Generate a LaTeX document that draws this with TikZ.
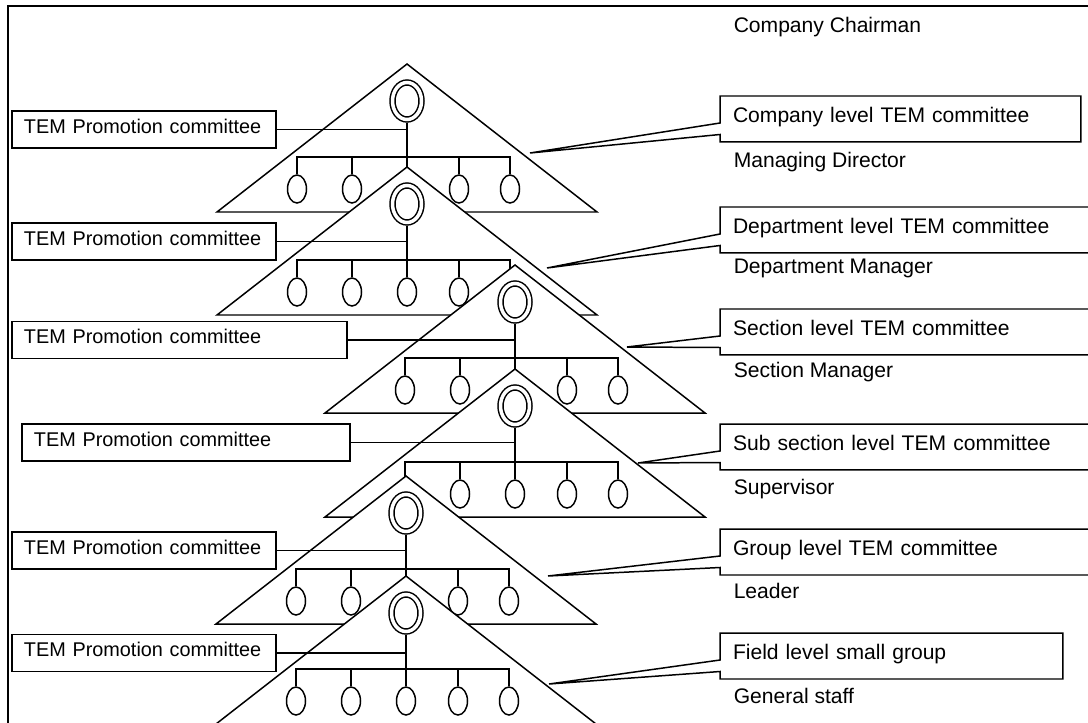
\documentclass[tikz,border=0pt]{standalone}
\usepackage{fontspec}
\setmainfont{Liberation Sans}
\usetikzlibrary{shapes.geometric,calc}

\tikzset{
  promobox/.style={draw, rectangle, anchor=west, outer sep=0pt, minimum height=0.74cm, inner xsep=0.24cm, align=left, text height=0.75em, text depth=0.3em, font=\fontsize{11.3}{13}\selectfont},
  tierbox/.style={rectangle, anchor=north west, outer sep=0pt, minimum height=0.92cm, inner xsep=0.26cm, align=left, text height=0.75em, text depth=0.3em, font=\fontsize{12}{14}\selectfont},
  rolelabel/.style={anchor=west, inner sep=0pt, text height=0.75em, text depth=0.3em, font=\fontsize{12}{14}\selectfont},
  boss/.style={ellipse, draw, double, double distance=0.07cm, minimum width=0.58cm, minimum height=0.74cm, inner sep=0pt, outer sep=0.065cm},
  member/.style={ellipse, draw, minimum width=0.38cm, minimum height=0.56cm, inner sep=0pt}
}

\begin{document}
\begin{tikzpicture}[x=0.02cm, y=-0.02cm, line width=0.85pt]
            \useasboundingbox (0,0) rectangle (1088,723);
            \clip (0,0) rectangle (1088,723);
            \draw (1100,6) -- (8,6) -- (8,730);

            % Promotion committees
            \node[promobox, text width=4.8cm] (prom1) at (12,129.5) {TEM Promotion committee};
            \node[promobox, text width=4.8cm] (prom2) at (12,241.5) {TEM Promotion committee};
            \node[promobox, text width=6.22cm] (prom3) at (12,340) {TEM Promotion committee};
            \node[promobox, text width=6.08cm] (prom4) at (22,442.5) {TEM Promotion committee};
            \node[promobox, text width=4.8cm] (prom5) at (12,550.5) {TEM Promotion committee};
            \node[promobox, text width=4.8cm] (prom6) at (12,653) {TEM Promotion committee};

            % Level committees
            \node[tierbox, text width=6.7cm] (tier1) at (720,96) {Company level TEM committee};
            \node[tierbox, text width=7.08cm] (tier2) at (720,207) {Department level TEM committee};
            \node[tierbox, text width=7.08cm] (tier3) at (720,309) {Section level TEM committee};
            \node[tierbox, text width=7.08cm] (tier4) at (720,424) {Sub section level TEM committee};
            \node[tierbox, text width=7.08cm] (tier5) at (720,529) {Group level TEM committee};
            \node[tierbox, text width=6.34cm] (tier6) at (720,633) {Field level small group};

            % Positions
            \node[rolelabel] (chair) at (733,28.5) {Company Chairman};
            \node[rolelabel] (role1) at (733,164) {Managing Director};
            \node[rolelabel] (role2) at (733,270) {Department Manager};
            \node[rolelabel] (role3) at (733,374) {Section Manager};
            \node[rolelabel] (role4) at (733,491) {Supervisor};
            \node[rolelabel] (role5) at (733,595) {Leader};
            \node[rolelabel] (role6) at (733,700) {General staff};

            % Pyramids, each one over the one before
            \foreach \n/\cx/\ay in {1/407/64, 2/407/167, 3/515/265, 4/515/369, 5/406/476, 6/406/576} {
                \draw[fill=white] (\cx,\ay) -- ++(190,148) -- ++(-380,0) -- cycle;
                \node[boss] (boss\n) at (\cx,\ay+37) {};
                \coordinate (hub\n) at (\cx,\ay+93);
                \draw (boss\n) -- (hub\n);
                \foreach \k/\dx in {a/-110, b/-55, c/0, d/52, e/103} {
                    \node[member] (m\n\k) at ({\cx+\dx},{\ay+125}) {};
                    \draw (m\n\k) |- (hub\n);
                }
                \draw (prom\n.east) -- (prom\n.east -| boss\n);
            }

            % Callouts
            \coordinate (tip1) at (530,153);
            \coordinate (tip2) at (547,268);
            \coordinate (tip3) at (627,347);
            \coordinate (tip4) at (638,463);
            \coordinate (tip5) at (548,576);
            \coordinate (tip6) at (549,684);
            \foreach \n in {1,...,6}
                \draw (tier\n.north west) -- (tier\n.north east) -- (tier\n.south east) -- (tier\n.south west)
                    -- ($(tier\n.north west)+(0,38.5)$) -- (tip\n) -- ($(tier\n.north west)+(0,27)$) -- cycle;

\end{tikzpicture}
\end{document}
